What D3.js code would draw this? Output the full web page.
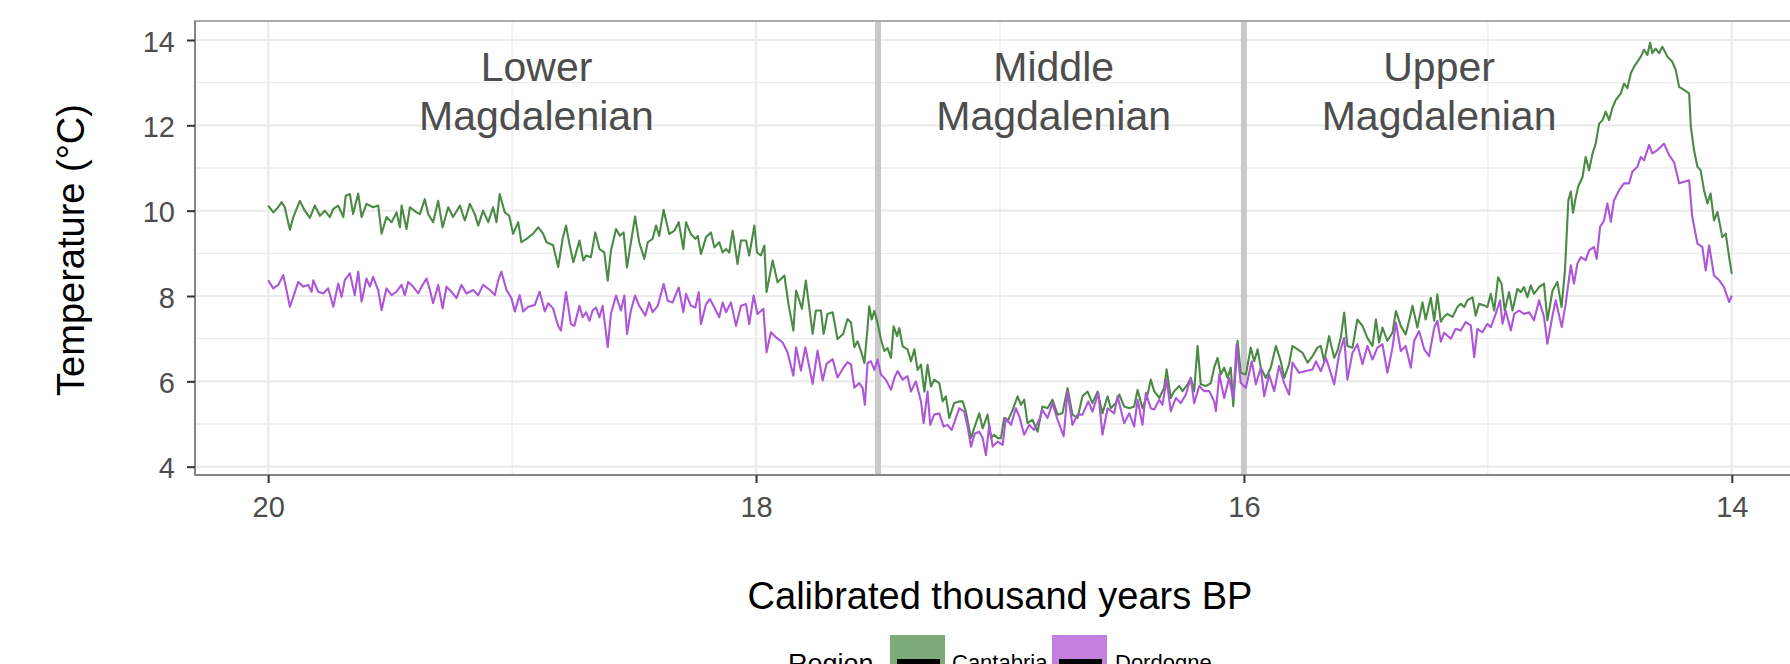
<!DOCTYPE html>
<html>
<head>
<meta charset="utf-8">
<script src="https://cdn.jsdelivr.net/npm/d3@7"></script>
<style>
  html, body { margin: 0; padding: 0; background: #ffffff; }
  svg { display: block; font-family: "Liberation Sans", Arial, sans-serif; }
</style>
</head>
<body>
<svg id="chart" width="1790" height="664"></svg>
<script>
// ---------------- DATA ----------------
const xTicks = [20, 18, 16, 14];
const xMinorTicks = [19, 17, 15];
const yTicks = [4, 6, 8, 10, 12, 14];
const yMinorTicks = [5, 7, 9, 11, 13];
const periodBoundaries = [17.5, 16];
const periodLabels = [["Lower", "Magdalenian"], ["Middle", "Magdalenian"], ["Upper", "Magdalenian"]];
const periodLabelYears = [18.9, 16.78, 15.2];
const seriesNames = ["Cantabria", "Dordogne"];
const xTitle = "Calibrated thousand years BP";
const yTitle = "Temperature (°C)";
const legendTitle = "Region";

// [calibrated kyr BP, temperature °C]
const cantabria = [
[20.000,10.12],[19.979,9.96],[19.959,10.08],[19.945,10.20],[19.932,10.08],[19.911,9.55],[19.897,9.85],[19.870,10.23],[19.850,10.00],[19.829,9.83],
[19.809,10.12],[19.788,9.88],[19.768,10.00],[19.747,9.85],[19.733,10.04],[19.713,10.12],[19.692,9.85],[19.682,10.35],[19.665,10.39],[19.652,9.92],
[19.631,10.40],[19.617,9.85],[19.597,10.16],[19.570,10.08],[19.549,10.12],[19.535,9.46],[19.515,9.85],[19.494,9.73],[19.474,9.96],[19.460,9.61],
[19.453,10.12],[19.433,9.57],[19.419,10.08],[19.392,9.96],[19.378,9.92],[19.358,10.27],[19.344,9.92],[19.324,9.73],[19.303,10.23],[19.285,9.61],
[19.262,10.08],[19.242,9.85],[19.214,10.12],[19.194,9.77],[19.173,10.16],[19.153,9.92],[19.139,9.65],[19.119,10.00],[19.098,9.73],[19.078,10.08],
[19.064,9.73],[19.051,10.39],[19.030,9.96],[19.012,9.88],[18.996,9.46],[18.975,9.73],[18.962,9.26],[18.941,9.34],[18.914,9.46],[18.893,9.61],
[18.873,9.46],[18.859,9.26],[18.832,9.19],[18.811,8.68],
[18.793,9.34],[18.779,9.65],[18.765,9.22],[18.749,8.79],[18.724,9.30],[18.708,8.83],[18.697,8.95],[18.677,8.91],[18.659,9.49],[18.642,9.10],
[18.622,9.02],[18.608,8.36],[18.595,9.06],[18.574,9.57],[18.558,9.41],[18.543,9.49],[18.529,8.67],[18.513,9.26],[18.496,9.86],[18.479,9.26],
[18.458,8.87],[18.444,9.26],[18.424,9.34],[18.410,9.65],[18.397,9.41],[18.379,10.02],[18.356,9.45],[18.335,9.53],[18.317,9.73],[18.298,9.10],
[18.287,9.73],[18.267,9.45],[18.249,9.34],[18.239,9.41],[18.226,8.98],[18.205,9.38],[18.185,9.49],[18.171,9.14],[18.151,9.26],[18.137,9.02],
[18.123,9.10],[18.110,9.02],[18.096,9.53],[18.076,8.75],[18.062,9.30],[18.041,9.30],[18.028,8.95],[18.007,9.65],[17.996,9.02],[17.980,8.95],
[17.966,9.18],[17.957,8.09],[17.932,8.83],[17.912,8.32],[17.884,8.48],[17.867,7.81],[17.847,7.19],[17.836,8.13],[17.812,7.70],[17.796,8.36],
[17.768,7.11],[17.755,7.66],[17.734,7.66],[17.723,7.11],[17.707,7.58],[17.686,7.62],[17.666,6.99],[17.643,7.11],[17.625,7.46],[17.611,7.38],
[17.597,6.80],[17.584,6.94],[17.570,6.71],[17.556,6.43],[17.543,7.25],[17.536,7.76],[17.526,7.45],[17.515,7.65],[17.502,7.37],[17.488,6.98],
[17.474,6.71],[17.461,6.78],[17.447,6.55],[17.436,7.29],[17.422,7.06],[17.413,7.25],[17.399,6.82],[17.379,6.75],[17.365,6.47],[17.351,6.75],
[17.338,6.27],[17.324,6.39],[17.310,5.76],[17.297,6.39],[17.283,5.88],[17.270,6.04],[17.249,5.96],[17.235,5.53],[17.222,5.65],[17.208,5.14],
[17.188,5.49],[17.167,5.53],[17.153,5.53],[17.140,5.29],[17.119,4.67],[17.106,4.90],[17.085,5.25],[17.071,4.90],[17.051,5.22],[17.037,4.67],
[17.024,4.75],[17.010,4.67],[16.996,4.67],[16.983,5.14],[16.969,5.06],[16.948,5.33],[16.928,5.65],[16.914,5.45],[16.901,5.57],[16.887,5.02],
[16.867,5.10],[16.846,4.82],[16.826,5.41],[16.805,5.37],[16.785,5.57],[16.764,5.22],[16.744,5.25],[16.723,5.84],[16.703,5.22],[16.682,5.14],
[16.662,5.65],[16.641,5.76],[16.621,5.49],[16.600,5.76],[16.580,5.25],[16.559,5.65],[16.546,5.37],[16.525,5.49],[16.511,5.69],[16.491,5.41],
[16.470,5.37],[16.450,5.41],[16.436,5.80],[16.416,5.37],[16.395,5.69],[16.382,6.04],
[16.368,5.77],[16.347,5.61],[16.327,5.85],[16.317,6.28],[16.300,5.61],[16.286,5.77],[16.265,5.89],[16.252,5.77],[16.231,5.93],[16.218,6.08],
[16.204,5.77],[16.190,6.83],[16.177,5.93],[16.156,5.89],[16.136,5.96],[16.122,6.32],[16.108,6.55],[16.095,6.16],[16.081,6.32],[16.067,6.08],
[16.054,6.32],[16.044,5.42],[16.026,6.95],[16.013,6.20],[15.992,6.16],[15.972,6.79],[15.958,6.47],[15.944,6.75],[15.931,6.32],[15.910,6.08],
[15.890,6.32],[15.869,6.83],[15.849,6.47],[15.835,6.08],[15.815,6.40],[15.801,6.83],[15.780,6.75],[15.760,6.67],[15.739,6.44],[15.719,6.59],
[15.699,6.79],[15.685,6.83],[15.671,6.47],[15.651,7.06],[15.630,6.55],[15.617,6.71],[15.603,7.02],[15.589,7.61],[15.576,6.83],[15.555,6.79],
[15.535,7.45],[15.514,7.30],[15.494,7.02],[15.473,6.83],[15.459,7.45],[15.446,6.91],[15.432,7.26],[15.412,6.95],[15.391,7.14],[15.377,7.65],
[15.357,7.30],[15.337,7.10],[15.323,7.42],[15.309,7.77],[15.289,7.26],[15.268,7.85],[15.255,7.45],[15.234,7.96],[15.220,7.42],[15.207,8.04],
[15.193,7.40],[15.179,7.52],
[15.166,7.58],[15.145,7.51],[15.125,7.74],[15.111,7.82],[15.097,7.74],[15.084,7.90],[15.063,7.97],[15.050,7.54],[15.036,7.82],[15.015,7.78],
[15.002,7.74],[14.988,8.05],[14.974,7.66],[14.958,8.44],[14.944,8.29],[14.931,7.66],[14.913,8.09],[14.899,7.66],[14.879,8.17],[14.865,8.09],
[14.852,8.21],[14.838,7.97],[14.824,8.25],[14.811,8.05],[14.790,8.21],[14.770,8.29],[14.756,7.43],[14.735,8.13],[14.715,8.33],[14.698,7.74],
[14.684,8.60],[14.670,10.25],[14.660,10.45],[14.651,9.95],[14.640,10.30],[14.630,10.56],[14.612,10.79],[14.599,11.26],[14.585,10.95],[14.571,11.34],
[14.558,11.57],[14.544,12.04],[14.530,12.12],[14.517,12.32],[14.503,12.12],[14.490,12.40],[14.476,12.59],[14.455,12.75],[14.442,12.98],[14.428,12.87],
[14.414,13.22],[14.401,13.37],[14.387,13.49],[14.373,13.61],[14.360,13.77],[14.346,13.65],[14.335,13.94],[14.326,13.69],[14.312,13.80],[14.298,13.69],
[14.285,13.84],[14.264,13.61],[14.244,13.49],[14.230,13.30],[14.216,12.90],[14.196,12.83],[14.175,12.75],[14.168,11.97],[14.155,11.42],[14.141,11.03],
[14.128,10.95],[14.114,10.48],[14.100,10.17],[14.087,10.40],[14.073,9.77],[14.059,9.97],[14.039,9.38],[14.025,9.46],[14.011,8.91],[14.000,8.52]
];

const dordogne = [
[20.000,8.37],[19.979,8.18],[19.959,8.26],[19.938,8.49],[19.925,8.14],[19.911,7.75],[19.897,7.98],[19.877,8.33],[19.856,8.22],[19.836,8.26],
[19.822,8.10],[19.815,8.37],[19.795,8.10],[19.774,8.06],[19.754,8.18],[19.733,7.75],[19.713,8.29],[19.699,7.98],[19.686,8.37],[19.665,8.53],
[19.645,8.02],[19.631,8.57],[19.617,7.87],[19.597,8.41],[19.583,8.22],[19.570,8.45],[19.549,8.14],[19.535,7.67],[19.515,8.18],[19.494,8.02],
[19.474,8.10],[19.453,8.26],[19.440,8.02],[19.426,8.33],[19.406,8.22],[19.385,8.06],[19.371,8.22],[19.351,8.41],[19.337,8.14],[19.324,7.83],
[19.303,8.26],[19.285,7.71],[19.269,8.22],[19.249,8.10],[19.228,7.95],[19.208,8.26],[19.187,8.06],[19.160,8.14],[19.139,8.02],[19.119,8.26],
[19.091,8.14],[19.071,8.02],[19.057,8.37],[19.044,8.57],[19.023,8.14],[19.003,7.95],[18.989,7.64],[18.969,8.02],[18.955,7.64],[18.934,7.75],
[18.907,7.79],[18.887,8.10],[18.866,7.64],[18.852,7.83],[18.832,7.71],[18.811,7.29],[18.800,7.19],
[18.779,8.09],[18.759,7.34],[18.745,7.30],[18.724,7.77],[18.711,7.50],[18.697,7.62],[18.683,7.42],[18.670,7.66],[18.656,7.73],[18.642,7.50],
[18.629,7.77],[18.608,6.80],[18.595,7.58],[18.574,8.01],[18.554,7.66],[18.540,8.01],[18.529,7.11],[18.513,7.66],[18.496,8.01],[18.479,7.77],
[18.454,7.54],[18.438,7.85],[18.424,7.62],[18.403,7.77],[18.379,8.28],[18.362,7.89],[18.342,7.85],[18.317,8.20],[18.298,7.62],[18.287,8.05],
[18.267,7.77],[18.249,7.73],[18.235,8.09],[18.226,7.34],[18.205,7.81],[18.189,7.93],[18.171,7.73],[18.151,7.50],[18.137,7.85],[18.123,7.62],
[18.103,7.85],[18.082,7.30],[18.062,7.77],[18.041,7.81],[18.028,7.34],[18.010,8.01],[17.994,7.58],[17.970,7.70],[17.957,6.68],[17.939,7.15],
[17.918,7.03],[17.891,6.91],[17.871,6.68],[17.847,6.13],[17.836,6.80],[17.816,6.25],[17.798,6.80],[17.768,5.94],[17.748,6.72],[17.727,6.02],
[17.711,6.41],[17.686,6.52],[17.666,6.09],[17.645,6.29],[17.625,6.45],[17.611,6.40],[17.597,5.85],
[17.577,5.96],[17.563,5.84],[17.554,5.45],[17.543,6.43],[17.529,6.47],[17.515,6.27],[17.502,6.51],[17.488,6.16],[17.468,6.04],[17.447,5.80],
[17.433,6.08],[17.420,6.24],[17.399,6.04],[17.379,6.12],[17.365,5.76],[17.345,6.00],[17.324,5.53],[17.313,5.02],[17.297,5.76],[17.286,4.98],
[17.270,5.22],[17.249,5.25],[17.231,4.94],[17.215,4.98],[17.198,4.86],[17.181,5.14],[17.167,5.37],[17.147,5.29],[17.133,4.94],[17.119,4.47],
[17.103,4.78],[17.085,4.82],[17.071,4.67],[17.058,4.27],[17.044,4.98],[17.030,4.47],[17.010,4.59],[16.989,4.51],[16.976,5.14],[16.955,4.98],
[16.935,5.37],[16.921,5.18],[16.901,4.75],[16.880,4.98],[16.860,4.86],[16.839,5.10],[16.826,5.33],[16.805,5.14],[16.785,5.49],[16.764,5.10],
[16.739,4.71],[16.723,5.76],[16.703,4.98],[16.682,5.22],[16.662,5.22],[16.638,5.53],[16.621,5.29],[16.597,5.73],[16.580,4.75],[16.559,5.37],
[16.532,5.25],[16.518,5.65],[16.491,5.02],[16.470,5.25],[16.450,4.94],[16.436,5.57],[16.416,4.98],[16.402,5.73],[16.382,5.37],
[16.368,5.34],[16.347,5.57],[16.334,5.45],[16.317,6.04],[16.300,5.30],[16.279,5.61],[16.259,5.49],[16.238,5.69],[16.218,6.08],[16.204,5.49],
[16.183,5.89],[16.163,5.77],[16.142,5.77],[16.122,5.53],[16.115,5.30],[16.101,6.16],[16.081,5.61],[16.061,6.08],[16.044,5.61],[16.030,6.87],
[16.013,5.96],[15.992,5.85],[15.968,6.47],[15.951,5.93],[15.931,6.32],[15.917,5.65],[15.897,6.16],[15.876,5.77],[15.856,6.36],[15.835,5.96],
[15.815,5.69],[15.801,6.44],[15.774,6.20],[15.746,6.24],[15.719,6.28],[15.705,6.47],[15.685,6.24],[15.664,6.55],[15.651,6.32],[15.630,5.93],
[15.610,6.63],[15.589,7.02],[15.576,6.04],[15.555,6.67],[15.535,6.87],[15.514,6.40],[15.494,6.83],[15.473,6.51],[15.453,6.79],[15.432,6.87],
[15.412,6.20],[15.391,6.79],[15.377,7.38],[15.357,6.71],[15.337,6.83],[15.316,6.32],[15.302,6.95],[15.282,7.18],[15.261,6.75],[15.241,6.59],
[15.220,7.26],[15.207,7.42],[15.193,6.93],[15.179,7.14],
[15.152,7.00],[15.132,7.23],[15.111,7.19],[15.091,7.39],[15.070,7.31],[15.056,6.57],[15.043,7.23],[15.022,7.15],[15.002,7.35],[14.988,7.27],
[14.968,7.58],[14.950,7.90],[14.940,7.35],[14.927,7.66],[14.906,7.19],[14.892,7.58],[14.872,7.66],[14.852,7.58],[14.831,7.62],[14.811,7.43],
[14.790,7.90],[14.770,7.51],[14.756,6.88],[14.735,7.54],[14.722,7.90],[14.697,7.27],[14.681,7.82],[14.660,8.72],[14.647,8.29],[14.633,8.76],
[14.619,8.91],[14.599,8.84],[14.585,9.07],[14.565,9.15],[14.554,8.87],[14.540,9.62],[14.524,9.77],[14.510,10.17],[14.496,9.74],[14.483,10.24],
[14.462,10.48],[14.442,10.64],[14.421,10.64],[14.408,10.91],[14.387,11.03],[14.373,11.26],[14.360,11.18],[14.339,11.54],[14.326,11.34],[14.305,11.42],
[14.278,11.57],[14.257,11.30],[14.237,11.14],[14.216,10.64],[14.196,10.68],[14.175,10.71],[14.162,9.85],[14.141,9.23],[14.121,9.15],[14.107,8.60],
[14.093,9.19],[14.073,8.48],[14.052,8.37],[14.032,8.21],[14.011,7.86],[14.000,8.01]
];

const seriesData = [cantabria, dordogne];
const lineColors = ["#4a8a44", "#ad56d8"];
const keyColors = ["#7bab7b", "#c480de"];

// ---------------- LAYOUT ----------------
const W = 1790, H = 664;
const panel = { left: 195, right: 1805, top: 21, bottom: 475 };
const svg = d3.select("#chart");
const FONT = "'Liberation Sans', Arial, sans-serif";

const x = d3.scaleLinear().domain([20.3, 13.7]).range([panel.left, panel.right]);
const y = d3.scaleLinear().domain([3.805, 14.445]).range([panel.bottom, panel.top]);

svg.append("rect").attr("x", 0).attr("y", 0).attr("width", W).attr("height", H).attr("fill", "#fff");

// grid
const grid = svg.append("g");
grid.selectAll(".ymin").data(yMinorTicks).join("line")
  .attr("x1", panel.left).attr("x2", panel.right)
  .attr("y1", d => y(d)).attr("y2", d => y(d))
  .attr("stroke", "#ededed").attr("stroke-width", 1.3);
grid.selectAll(".xmin").data(xMinorTicks).join("line")
  .attr("y1", panel.top).attr("y2", panel.bottom)
  .attr("x1", d => x(d)).attr("x2", d => x(d))
  .attr("stroke", "#ededed").attr("stroke-width", 1.3);
grid.selectAll(".ymaj").data(yTicks).join("line")
  .attr("x1", panel.left).attr("x2", panel.right)
  .attr("y1", d => y(d)).attr("y2", d => y(d))
  .attr("stroke", "#ebebeb").attr("stroke-width", 2.2);
grid.selectAll(".xmaj").data(xTicks).join("line")
  .attr("y1", panel.top).attr("y2", panel.bottom)
  .attr("x1", d => x(d)).attr("x2", d => x(d))
  .attr("stroke", "#ebebeb").attr("stroke-width", 2.2);

// period boundaries
svg.append("g").selectAll("line").data(periodBoundaries).join("line")
  .attr("x1", d => x(d)).attr("x2", d => x(d))
  .attr("y1", panel.top).attr("y2", panel.bottom)
  .attr("stroke", "#c9c9c9").attr("stroke-width", 6);

// period labels
const lab = svg.append("g").attr("font-family", FONT).attr("font-size", 41).attr("fill", "#4d4d4d").attr("text-anchor", "middle");
periodLabels.forEach((lines, i) => {
  const t = lab.append("text").attr("x", x(periodLabelYears[i])).attr("y", y(13.03));
  lines.forEach((ln, j) => t.append("tspan").attr("x", x(periodLabelYears[i])).attr("dy", j === 0 ? 0 : 49).text(ln));
});

// data lines
const line = d3.line().x(d => x(d[0])).y(d => y(d[1]));
svg.append("g").selectAll("path").data(seriesData).join("path")
  .attr("d", d => line(d))
  .attr("fill", "none")
  .attr("stroke", (d, i) => lineColors[i])
  .attr("stroke-width", 2.1)
  .attr("stroke-linejoin", "round");

// panel border
svg.append("rect").attr("x", panel.left).attr("y", panel.top)
  .attr("width", panel.right - panel.left).attr("height", panel.bottom - panel.top)
  .attr("fill", "none").attr("stroke", "#ababab").attr("stroke-width", 2);

// axes
const xAxis = d3.axisBottom(x).tickValues(xTicks).tickSize(8).tickPadding(13).tickFormat(d3.format("d"));
const gx = svg.append("g").attr("transform", `translate(0,${panel.bottom})`).call(xAxis);
const yAxis = d3.axisLeft(y).tickValues(yTicks).tickSize(8).tickPadding(12).tickFormat(d3.format("d"));
const gy = svg.append("g").attr("transform", `translate(${panel.left},0)`).call(yAxis);
[gx, gy].forEach(g => {
  g.select(".domain").attr("stroke", "#858585").attr("stroke-width", 2);
  g.selectAll(".tick line").attr("stroke", "#333").attr("stroke-width", 2);
  g.selectAll(".tick text").attr("fill", "#4d4d4d").attr("font-size", 29).attr("font-family", FONT);
});
gx.select(".domain").attr("d", `M${panel.left},0H${panel.right}`);
gy.select(".domain").attr("d", `M0,${panel.top}V${panel.bottom}`);
gy.selectAll(".tick text").attr("dy", "0.38em");

// axis titles
svg.append("text").attr("x", (panel.left + panel.right) / 2).attr("y", 609)
  .attr("text-anchor", "middle").attr("font-family", FONT).attr("font-size", 38).attr("fill", "#000")
  .text(xTitle);
svg.append("text").attr("transform", `translate(84,${(panel.top + panel.bottom) / 2 + 2}) rotate(-90)`)
  .attr("text-anchor", "middle").attr("font-family", FONT).attr("font-size", 38).attr("fill", "#000")
  .text(yTitle);

// legend
const leg = svg.append("g").attr("font-family", FONT);
leg.append("text").attr("x", 788).attr("y", 673).attr("font-size", 27).attr("fill", "#000").text(legendTitle);
const keyX = [890, 1052];
const labX = [952, 1115];
seriesNames.forEach((name, i) => {
  leg.append("rect").attr("x", keyX[i]).attr("y", 635).attr("width", 55).attr("height", 55).attr("fill", keyColors[i]);
  leg.append("rect").attr("x", keyX[i] + 7).attr("y", 659).attr("width", 43).attr("height", 8).attr("fill", "#000");
  leg.append("text").attr("x", labX[i]).attr("y", 670).attr("font-size", 22).attr("fill", "#000").text(name);
});
</script>
</body>
</html>
